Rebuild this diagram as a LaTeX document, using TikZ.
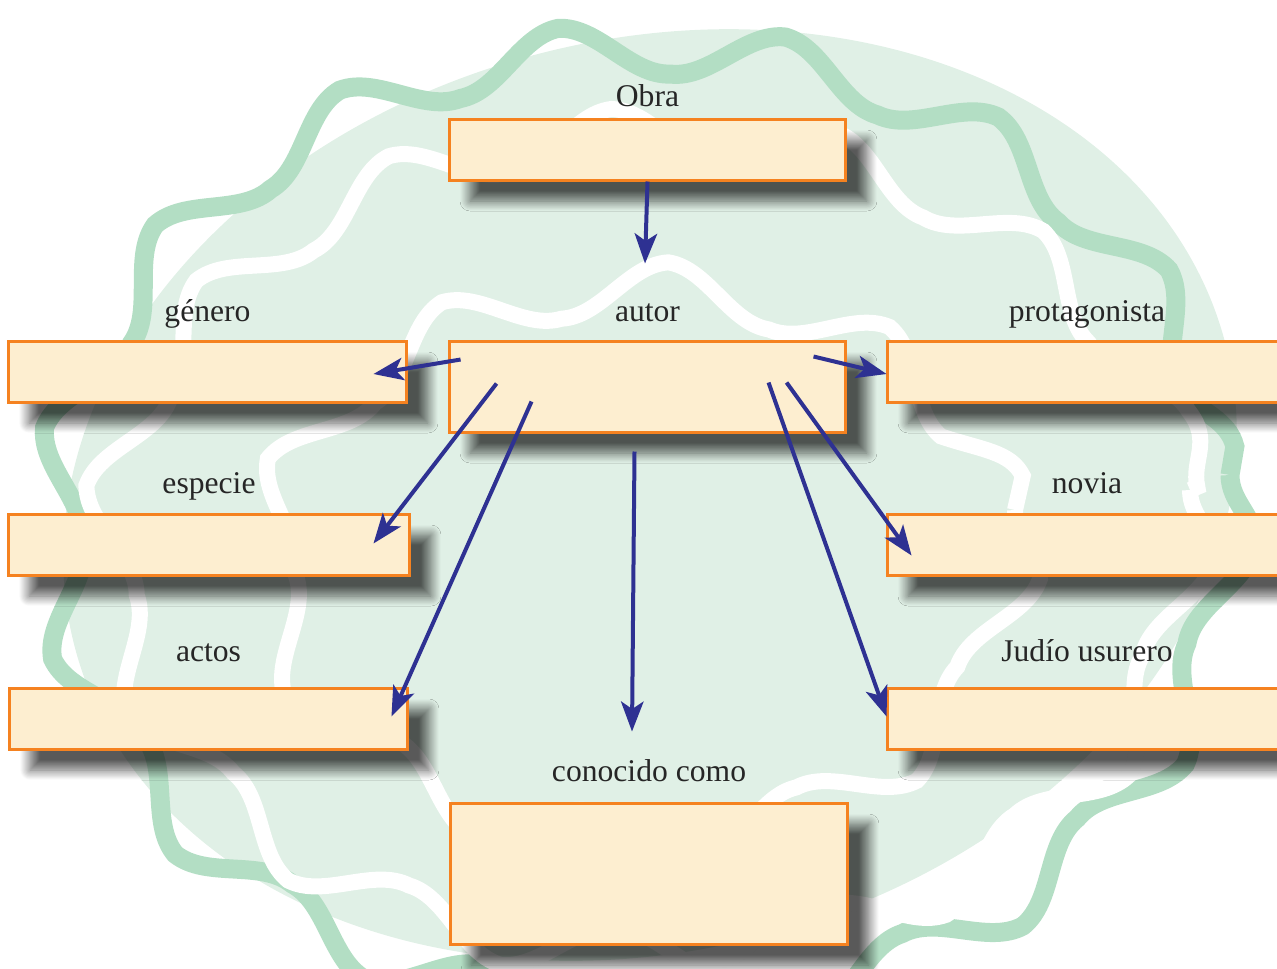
\documentclass[tikz,border=0pt]{standalone}
\usepackage{fontspec}
\setmainfont{Liberation Serif}
\usetikzlibrary{positioning, arrows.meta, calc, shadows.blur, decorations.pathmorphing}

\definecolor{boxorange}{HTML}{F58220}
\definecolor{boxfill}{HTML}{FDEED0}
\definecolor{cloudfill}{HTML}{E0F0E6}
\definecolor{cloudline}{HTML}{B3DEC4}
\definecolor{linkblue}{HTML}{2E3192}

\begin{document}
\begin{tikzpicture}[x=0.02cm, y=-0.02cm,
    box/.style={draw=boxorange, line width=0.06cm, fill=boxfill, minimum height=1.22cm, inner sep=0pt,
        blur shadow={shadow xshift=0.42cm, shadow yshift=-0.42cm, shadow blur radius=0.2cm,
            shadow blur steps=16, shadow opacity=65}},
    lbl/.style={inner sep=0pt, text depth=0pt, font=\fontsize{18}{20}\selectfont, text=black!85},
    link/.style={draw=linkblue, line width=0.08cm, -{Stealth[length=0.6cm, width=0.45cm, inset=0.15cm]}},
    wave/.style={decorate, decoration={snake, segment length=4.4cm, amplitude=0.5cm}}]

    \useasboundingbox (0,0) rectangle (1277,968);

    % cloud
    \fill[cloudfill, rotate around={15:(650,495)}] (650,495) ellipse [x radius=595, y radius=455];
    \draw[cloudline, line width=0.38cm, wave] (645,475) ellipse [x radius=585, y radius=480];
    \draw[white, line width=0.32cm, wave] (650,490) ellipse [x radius=540, y radius=410];
    \draw[white, line width=0.32cm, wave] (645,510) ellipse [x radius=370, y radius=275];

    % boxes
    \node[box, minimum width=7.94cm] (obra) at (647.5,149.5) {};
    \node[box, minimum width=7.94cm, minimum height=1.82cm] (autor) at (647.5,386.5) {};
    \node[box, minimum width=7.98cm] (genero) at (207.5,371.5) {};
    \node[box, minimum width=8cm] (protagonista) at (1087,371.5) {};
    \node[box, minimum width=8.04cm] (especie) at (209,544.5) {};
    \node[box, minimum width=8cm] (novia) at (1087,544.5) {};
    \node[box, minimum width=7.98cm] (actos) at (208.5,718.5) {};
    \node[box, minimum width=8cm] (judio) at (1087,718.5) {};
    \node[box, minimum width=7.96cm, minimum height=2.82cm] (conocido) at (649,873.5) {};

    % labels
    \node[lbl, above=0.22cm of obra] (obralbl) {Obra};
    \node[lbl, above=0.36cm of autor] (autorlbl) {autor};
    \node[lbl, above=0.36cm of genero] (generolbl) {género};
    \node[lbl, above=0.36cm of protagonista] (protagonistalbl) {protagonista};
    \node[lbl, above=0.38cm of especie] (especielbl) {especie};
    \node[lbl, above=0.38cm of novia] (novialbl) {novia};
    \node[lbl, above=0.5cm of actos] (actoslbl) {actos};
    \node[lbl, above=0.5cm of judio] (judiolbl) {Judío usurero};
    \node[lbl, above=0.4cm of conocido] (conocidolbl) {conocido como};

    % links
    \coordinate (autorin) at ($(autor.north)+(-2.5,-76)$);
    \draw[link] (obra.south) -- (autorin);
    \draw[link] ($(autor.north west)+(13,20)$) -- ($(genero.east)+(-35,2.5)$);
    \draw[link] ($(autor.north west)+(366,17)$) -- ($(protagonista.west)+(1,2.5)$);
    \draw[link] ($(autor.north west)+(49,44)$) -- ($(especie.east)+(-38,-1)$);
    \draw[link] ($(autor.north west)+(84,62)$) -- ($(actos.east)+(-18,-2)$);
    \draw[link] ($(autor.south)+(-13,18)$) -- ($(conocido.north)+(-17,-70)$);
    \draw[link] ($(autor.north west)+(339,43)$) -- ($(novia.west)+(26,11)$);
    \draw[link] ($(autor.north west)+(321,43)$) -- ($(judio.west)+(1,-2)$);
\end{tikzpicture}
\end{document}
